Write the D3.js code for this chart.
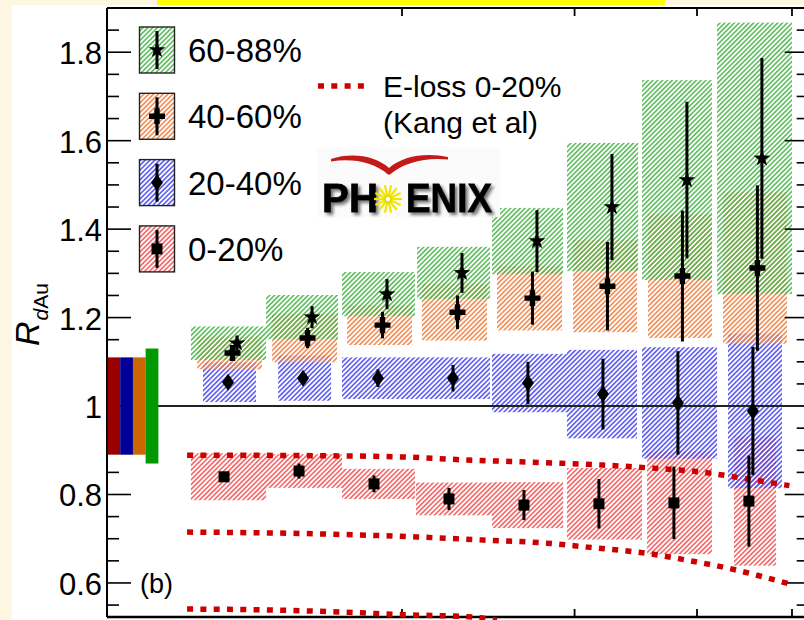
<!DOCTYPE html>
<html><head><meta charset="utf-8">
<script src="https://cdn.jsdelivr.net/npm/d3@7"></script>
<style>
body{margin:0;background:#fff}
svg{display:block}
text{font-family:"Liberation Sans",Arial,Helvetica,sans-serif}
</style>
</head><body>
<svg id="chart" width="804" height="620"></svg>
<script>
// ---------------- DATA ----------------
const centralities = ["0-20%", "20-40%", "40-60%", "60-88%"];
const legendOrder = ["60-88%", "40-60%", "20-40%", "0-20%"];
const binPt = [1.3165, 1.5702, 1.8726, 2.2334, 2.6636, 3.1768, 3.7887, 4.5186];

const r0_20    = [0.840, 0.853, 0.824, 0.790, 0.776, 0.779, 0.781, 0.785];
const stat0_20 = [0.008, 0.017, 0.019, 0.025, 0.034, 0.056, 0.082, 0.103];
const syst0_20 = [0.053, 0.038, 0.034, 0.037, 0.052, 0.081, 0.116, 0.146];
const boxLo0_20 = [1.218, 1.453, 1.737, 2.067, 2.471, 2.947, 3.557, 4.363];
const boxHi0_20 = [1.453, 1.737, 2.062, 2.471, 2.920, 3.515, 4.143, 4.815];

const r20_40    = [1.054, 1.063, 1.063, 1.063, 1.052, 1.027, 1.007, 0.989];
const stat20_40 = [0.010, 0.010, 0.020, 0.030, 0.048, 0.080, 0.117, 0.145];
const syst20_40 = [0.045, 0.051, 0.047, 0.047, 0.066, 0.100, 0.126, 0.175];
const boxLo20_40 = [1.253, 1.495, 1.737, 2.062, 2.471, 2.947, 3.515, 4.302];
const boxHi20_40 = [1.419, 1.693, 2.062, 2.459, 2.947, 3.474, 4.193, 4.884];

const r40_60    = [1.120, 1.154, 1.183, 1.212, 1.244, 1.271, 1.294, 1.312];
const stat40_60 = [0.015, 0.023, 0.030, 0.038, 0.060, 0.100, 0.148, 0.187];
const syst40_60 = [0.037, 0.055, 0.045, 0.064, 0.073, 0.104, 0.140, 0.171];
const boxLo40_60 = [1.236, 1.474, 1.758, 2.096, 2.500, 2.989, 3.565, 4.252];
const boxHi40_60 = [1.439, 1.717, 2.048, 2.442, 2.913, 3.474, 4.143, 4.941];

const r60_88    = [1.142, 1.201, 1.253, 1.301, 1.373, 1.450, 1.511, 1.560];
const stat60_88 = [0.017, 0.025, 0.034, 0.045, 0.070, 0.120, 0.177, 0.227];
const syst60_88 = [0.038, 0.050, 0.050, 0.059, 0.075, 0.145, 0.226, 0.307];
const boxLo60_88 = [1.218, 1.453, 1.737, 2.072, 2.471, 2.947, 3.515, 4.193];
const boxHi60_88 = [1.453, 1.721, 2.062, 2.459, 2.920, 3.483, 4.143, 5.000];

// global normalisation uncertainties (0-20, 20-40, 40-60, 60-88)
const globalUnc = [0.11, 0.11, 0.11, 0.13];

// E-loss theory (Kang et al), 0-20%
const eUpperPt = [1.207, 1.574, 1.991, 2.33, 2.72, 3.18, 3.58, 4.03, 4.42, 4.97];
const eUpperR  = [0.889, 0.888, 0.885, 0.878, 0.873, 0.867, 0.860, 0.851, 0.838, 0.820];
const eMidPt = [1.207, 1.64, 2.07, 2.42, 2.81, 3.09, 3.58, 3.94, 4.29, 4.67, 5.0];
const eMidR  = [0.715, 0.711, 0.704, 0.697, 0.690, 0.681, 0.666, 0.650, 0.634, 0.614, 0.596];
const eLowPt = [1.207, 1.456, 1.74, 2.02, 2.36, 2.5];
const eLowR  = [0.541, 0.539, 0.534, 0.528, 0.523, 0.516];

const yTickLabels = ["0.6", "0.8", "1", "1.2", "1.4", "1.6", "1.8"];
const xTicks = [2, 3, 4, 5];

// ---------------- STYLE ----------------
const hatchColor = {"0-20%": "#f25a5a", "20-40%": "#5050f0", "40-60%": "#f08448", "60-88%": "#52b852"};
const globColor = {"0-20%": "#990000", "20-40%": "#000099", "40-60%": "#cc6600", "60-88%": "#009900"};
const dodge = {"0-20%": 0, "20-40%": 4, "40-60%": 8.5, "60-88%": 13};
const markerOf = {"0-20%": "square", "20-40%": "diamond", "40-60%": "cross", "60-88%": "star"};

const seriesData = {
  "0-20%":  {r: r0_20,  stat: stat0_20,  syst: syst0_20,  lo: boxLo0_20,  hi: boxHi0_20},
  "20-40%": {r: r20_40, stat: stat20_40, syst: syst20_40, lo: boxLo20_40, hi: boxHi20_40},
  "40-60%": {r: r40_60, stat: stat40_60, syst: syst40_60, lo: boxLo40_60, hi: boxHi40_60},
  "60-88%": {r: r60_88, stat: stat60_88, syst: syst60_88, lo: boxLo60_88, hi: boxHi60_88}
};

// ---------------- SCALES ----------------
const x = d3.scaleLog().domain([1, 5.2]).range([107, 107 + 980 * Math.log10(5.2)]);
const y = d3.scaleLinear().domain([0.523, 1.9]).range([617, 8]);
const X0 = x.range()[0], X1 = x.range()[1], Y0 = y.range()[0], Y1 = y.range()[1];

const svg = d3.select("#chart");
svg.append("rect").attr("width", 804).attr("height", 620).attr("fill", "#fff");
// page decoration
svg.append("rect").attr("x", 0).attr("y", 0).attr("width", 12).attr("height", 620).attr("fill", "#fdf6e3");
svg.append("rect").attr("x", 0).attr("y", 0).attr("width", 804).attr("height", 5).attr("fill", "#fdf6e3");
svg.append("rect").attr("x", 157).attr("y", 0).attr("width", 508).attr("height", 5).attr("fill", "#ffff00");

const defs = svg.append("defs");
centralities.forEach((c, i) => {
  const p = defs.append("pattern").attr("id", "h" + i)
    .attr("patternUnits", "userSpaceOnUse").attr("width", 3.4).attr("height", 3.4)
    .attr("patternTransform", "rotate(45)");
  p.append("line").attr("x1", 1.7).attr("x2", 1.7).attr("y1", -1).attr("y2", 4.4)
    .attr("stroke", hatchColor[c]).attr("stroke-width", 1.5);
});
const shadow = defs.append("filter").attr("id", "shadow").attr("x", "-10%").attr("y", "-20%").attr("width", "130%").attr("height", "150%");
shadow.append("feDropShadow").attr("dx", 2.5).attr("dy", 2.5).attr("stdDeviation", 1.6)
  .attr("flood-color", "#555").attr("flood-opacity", 0.8);

// ---------------- SYSTEMATIC BOXES ----------------
const gBoxes = svg.append("g");
centralities.forEach((c, i) => {
  const s = seriesData[c];
  gBoxes.selectAll(null).data(d3.range(binPt.length)).join("rect")
    .attr("x", k => x(s.lo[k]))
    .attr("width", k => x(s.hi[k]) - x(s.lo[k]))
    .attr("y", k => y(s.r[k] + s.syst[k]))
    .attr("height", k => y(s.r[k] - s.syst[k]) - y(s.r[k] + s.syst[k]))
    .attr("fill", `url(#h${i})`);
});

// ---------------- AXES / FRAME ----------------
const gAx = svg.append("g").attr("stroke", "#000");
const yMinor = d3.range(11, 38).map(i => +(i * 0.05).toFixed(2));
yMinor.forEach(v => {
  const major = Math.abs(v / 0.2 - Math.round(v / 0.2)) < 1e-6;
  const L = major ? 24 : 12;
  gAx.append("line").attr("x1", X0).attr("x2", X0 + L).attr("y1", y(v)).attr("y2", y(v)).attr("stroke-width", 1.6);
  gAx.append("line").attr("x1", X1).attr("x2", X1 - L).attr("y1", y(v)).attr("y2", y(v)).attr("stroke-width", 1.6);
});
xTicks.forEach(t => {
  gAx.append("line").attr("x1", x(t)).attr("x2", x(t)).attr("y1", Y1).attr("y2", Y1 + 8).attr("stroke-width", 1.8);
  gAx.append("line").attr("x1", x(t)).attr("x2", x(t)).attr("y1", Y0).attr("y2", Y0 - 8).attr("stroke-width", 1.8);
});
gAx.append("line").attr("x1", X0).attr("x2", X0).attr("y1", Y1).attr("y2", Y0).attr("stroke-width", 2);
gAx.append("line").attr("x1", X0).attr("x2", X1).attr("y1", Y1).attr("y2", Y1).attr("stroke-width", 2);
gAx.append("line").attr("x1", X0).attr("x2", X1).attr("y1", Y0).attr("y2", Y0).attr("stroke-width", 2.4);

yTickLabels.forEach(t => {
  svg.append("text").attr("x", 102).attr("y", y(+t) + 12).attr("text-anchor", "end")
    .attr("font-size", 31).attr("fill", "#000").text(t);
});

// y title
const yt = svg.append("text").attr("transform", "translate(39,346) rotate(-90)").attr("fill", "#000");
yt.append("tspan").attr("font-size", 34).attr("font-style", "italic").text("R");
yt.append("tspan").attr("font-size", 21).attr("font-style", "italic").attr("dy", 9).attr("dx", 1).text("d");
yt.append("tspan").attr("font-size", 21).text("Au");

// unity line
svg.append("line").attr("x1", 158).attr("x2", X1).attr("y1", y(1)).attr("y2", y(1))
  .attr("stroke", "#222").attr("stroke-width", 2);

// global uncertainty bars
centralities.forEach((c, i) => {
  svg.append("rect").attr("x", X0 + 0.5 + i * 12.7).attr("width", 12.8)
    .attr("y", y(1 + globalUnc[i])).attr("height", y(1 - globalUnc[i]) - y(1 + globalUnc[i]))
    .attr("fill", globColor[c]);
});

// ---------------- THEORY ----------------
const line = d3.line().x(d => x(d[0])).y(d => y(d[1])).curve(d3.curveMonotoneX);
[[eUpperPt, eUpperR], [eMidPt, eMidR], [eLowPt, eLowR]].forEach(([pt, r]) => {
  svg.append("path").attr("d", line(pt.map((p, k) => [p, r[k]])))
    .attr("fill", "none").attr("stroke", "#cc0000").attr("stroke-width", 5.5)
    .attr("stroke-dasharray", "6,7.3");
});

// ---------------- MARKERS ----------------
function starPath(R, r) {
  let s = "";
  for (let k = 0; k < 10; k++) {
    const a = -Math.PI / 2 + k * Math.PI / 5;
    const rr = k % 2 ? r : R;
    s += (k ? "L" : "M") + (rr * Math.cos(a)).toFixed(2) + "," + (rr * Math.sin(a)).toFixed(2);
  }
  return s + "Z";
}
const markerPath = {
  square: "M-5.5,-5.5H5.5V5.5H-5.5Z",
  diamond: "M0,-8.5L6,0L0,8.5L-6,0Z",
  cross: "M-8,-2.7H-2.7V-8H2.7V-2.7H8V2.7H2.7V8H-2.7V2.7H-8Z",
  star: starPath(8.8, 3.5)
};
centralities.forEach(c => {
  const s = seriesData[c];
  const g = svg.append("g");
  binPt.forEach((p, k) => {
    const px = x(p) + dodge[c];
    g.append("line").attr("x1", px).attr("x2", px)
      .attr("y1", y(s.r[k] - s.stat[k])).attr("y2", y(s.r[k] + s.stat[k]))
      .attr("stroke", "#000").attr("stroke-width", 3);
    g.append("path").attr("d", markerPath[markerOf[c]])
      .attr("transform", `translate(${px},${y(s.r[k])})`).attr("fill", "#000");
  });
});

// ---------------- LEGEND ----------------
legendOrder.forEach((c, i) => {
  const top = 27 + i * 66.3;
  const idx = centralities.indexOf(c);
  svg.append("rect").attr("x", 139.5).attr("y", top).attr("width", 35).attr("height", 46)
    .attr("fill", `url(#h${idx})`).attr("stroke", "#222").attr("stroke-width", 1.4);
  const cy = top + 23;
  svg.append("line").attr("x1", 157).attr("x2", 157).attr("y1", cy - 19).attr("y2", cy + 19)
    .attr("stroke", "#000").attr("stroke-width", 3);
  svg.append("path").attr("d", markerPath[markerOf[c]]).attr("transform", `translate(157,${cy})`).attr("fill", "#000");
  svg.append("text").attr("x", 188).attr("y", cy + 12).attr("font-size", 33).attr("fill", "#000").text(c);
});
svg.append("line").attr("x1", 318).attr("x2", 364).attr("y1", 86).attr("y2", 86)
  .attr("stroke", "#cc0000").attr("stroke-width", 5.5).attr("stroke-dasharray", "6,7.3");
svg.append("text").attr("x", 383).attr("y", 97).attr("font-size", 30).attr("fill", "#000").text("E-loss 0-20%");
svg.append("text").attr("x", 383).attr("y", 133).attr("font-size", 30).attr("fill", "#000").text("(Kang et al)");

svg.append("text").attr("x", 140).attr("y", 593).attr("font-size", 27).attr("fill", "#000").text("(b)");

// ---------------- PHENIX LOGO ----------------
const logo = svg.append("g");
logo.append("rect").attr("x", 317).attr("y", 148).attr("width", 183).attr("height", 69).attr("fill", "#fbfbfb");
logo.append("path")
  .attr("d", "M331,159 C352,152 376,156 389,168 C402,156 426,152 448,157 L448,159.5 C427,157 404,162 390,174.5 L388,174.5 C374,162 352,158 331,161.5 Z")
  .attr("fill", "#c41a1a");
[["PH", 322, 56], ["ENIX", 406, 86]].forEach(([t, tx, tl]) => {
  logo.append("text").attr("x", tx).attr("y", 212).attr("font-size", 40).attr("font-weight", "bold")
    .attr("textLength", tl).attr("lengthAdjust", "spacingAndGlyphs")
    .attr("fill", "#000").attr("stroke", "#000").attr("stroke-width", 0.8)
    .attr("filter", "url(#shadow)").text(t);
});
d3.range(14).forEach(k => {
  const a = k * 2 * Math.PI / 14;
  logo.append("line").attr("x1", 388 + 3.5 * Math.cos(a)).attr("y1", 199 + 3.5 * Math.sin(a))
    .attr("x2", 388 + 14 * Math.cos(a)).attr("y2", 199 + 14 * Math.sin(a))
    .attr("stroke", "#f2e600").attr("stroke-width", 2.2);
});
logo.append("circle").attr("cx", 388).attr("cy", 199).attr("r", 3).attr("fill", "#fff").attr("stroke", "#e0d000").attr("stroke-width", 1.4);
</script>
</body></html>
